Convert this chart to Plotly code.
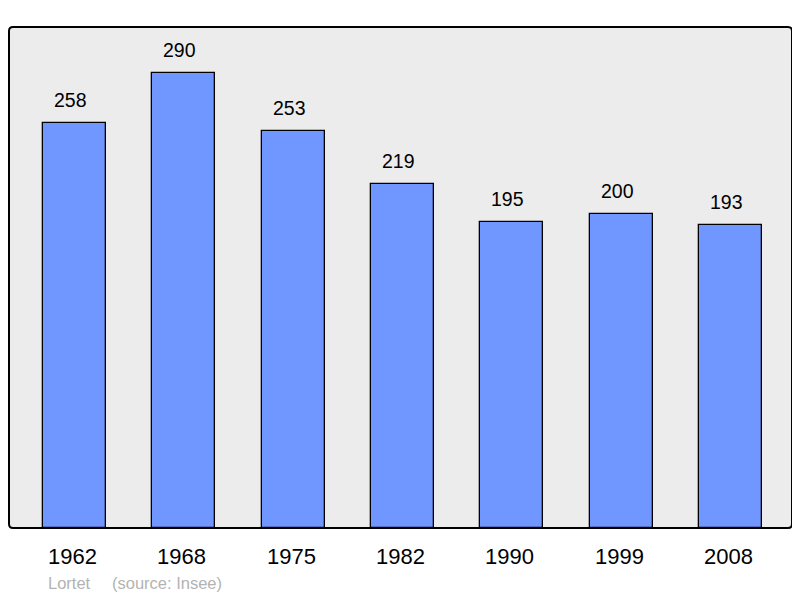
import plotly.graph_objects as go

years = ["1962", "1968", "1975", "1982", "1990", "1999", "2008"]
population = [258, 290, 253, 219, 195, 200, 193]
town = "Lortet"
source = "(source: Insee)"

# page body has an 8px margin; size the figure so the plot lands where the reference has it
W, H = 792, 590
L, R, T, B = 1, 8, 19, 70
FONT = "Liberation Sans, Arial, sans-serif"

fig = go.Figure()
fig.add_trace(go.Bar(
    x=list(range(len(years))), y=population, width=0.576,
    marker=dict(color="#7096ff", line=dict(color="#000000", width=1.3)),
    hoverinfo="skip",
))

for i, v in enumerate(population):
    fig.add_annotation(x=i, y=v, xref="x", yref="y", text=str(v), showarrow=False,
                       yanchor="bottom", yshift=10, xshift=-4,
                       font=dict(size=19.5, color="#000", family=FONT))
for i, yr in enumerate(years):
    fig.add_annotation(x=i, y=0, xref="x", yref="paper", text=yr, showarrow=False,
                       yanchor="middle", yshift=-28, xshift=-2,
                       font=dict(size=22, color="#000", family=FONT))

fig.add_annotation(x=0, y=0, xref="paper", yref="paper", text=town, showarrow=False,
                   xanchor="left", yanchor="middle", xshift=37, yshift=-55,
                   font=dict(size=16.5, color="#b3b3b3", family=FONT))
fig.add_annotation(x=0, y=0, xref="paper", yref="paper", text=source, showarrow=False,
                   xanchor="left", yanchor="middle", xshift=101, yshift=-55,
                   font=dict(size=16.5, color="#b3b3b3", family=FONT))

# rounded border around plot area (domain coords)
pw, ph = W - L - R, H - T - B
r = 4
rx, ry = r / pw, r / ph
path = (f"M {rx},0 L {1-rx},0 Q 1,0 1,{ry} L 1,{1-ry} Q 1,1 {1-rx},1 "
        f"L {rx},1 Q 0,1 0,{1-ry} L 0,{ry} Q 0,0 {rx},0 Z")
fig.add_shape(type="path", path=path, xref="x domain", yref="y domain",
              line=dict(color="#000000", width=2), layer="above")

fig.update_layout(
    width=W, height=H, margin=dict(l=L, r=R, t=T, b=B),
    paper_bgcolor="#ffffff", plot_bgcolor="#ececec",
    showlegend=False, bargap=0,
    xaxis=dict(range=[-0.60, 6.562], showticklabels=False, showgrid=False, zeroline=False,
               fixedrange=True),
    yaxis=dict(range=[0, 319.3], showticklabels=False, showgrid=False, zeroline=False,
               fixedrange=True),
)
fig.write_html("out.html")
